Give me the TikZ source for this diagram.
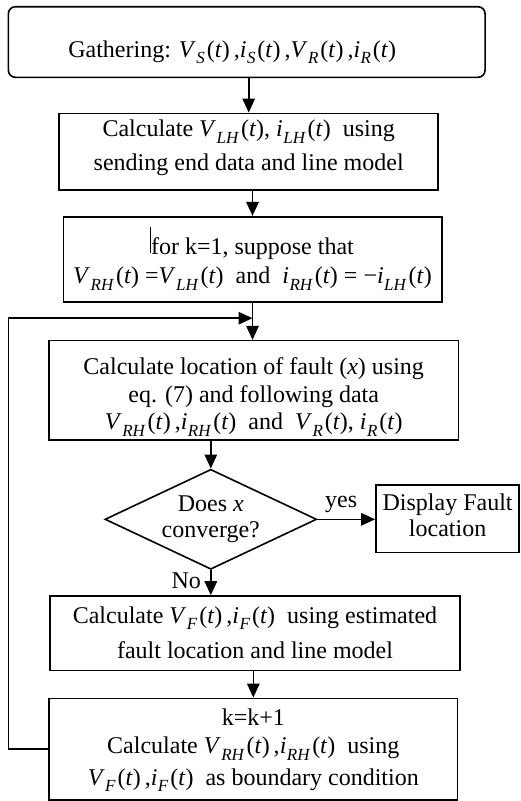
\documentclass[tikz,border=0pt]{standalone}
\usepackage{fontspec}
\setmainfont{Liberation Serif}
\usetikzlibrary{arrows.meta,shapes.geometric,calc}
\setlength\lineskiplimit{-100pt}
\setlength\lineskip{0pt}
\newcommand\qq[2]{\textit{#1}\kern0.02em\raisebox{-0.28em}{\fontsize{17}{17}\selectfont\textit{#2}}\kern0.08em(\textit{t})}
\newcommand\hs[1]{\rule{0pt}{#1pt}}
\newcommand\ds[1]{\rule[-#1pt]{0pt}{#1pt}}
\begin{document}
\begin{tikzpicture}[x=1pt,y=-1pt,
  every node/.style={align=center, inner sep=0pt},
  lead/.style={font=\fontsize{24}{#1}\selectfont},
  lead/.default=29,
  box/.style={draw, line width=1.6pt},
  arr/.style={line width=1.6pt, -{Triangle[length=14pt,width=12.5pt]}}]
\useasboundingbox (0,0) rectangle (520,801);
\node[box, lead=29, rounded corners=7pt, minimum width=476.7pt, minimum height=70.6pt] (b1) at (246.7,42)
  {\hs{40}\ds{10}Gathering: \qq{V}{S}\,,\qq{i}{S}\,,\qq{V}{R}\,,\qq{i}{R}\hspace*{29pt}};
\node[box, lead=33.3, minimum width=379pt, minimum height=76.7pt] (b2) at (248.7,151.7)
  {\hs{18.4}Calculate \qq{V}{LH}, \qq{i}{LH}\ \ using\\\ds{15}sending end data and line model};
\node[box, lead=29.3, minimum width=378.4pt, minimum height=85pt] (b3) at (252.5,259.2)
  {\hs{26.9}for k=1, suppose that\\\ds{8}\qq{V}{RH} =\qq{V}{LH}\ \ and\ \ \qq{i}{RH} = \textminus\qq{i}{LH}};
\node[box, lead=27.2, minimum width=409.3pt, minimum height=99.3pt] (b4) at (253.7,390.3)
  {\hs{31.6}Calculate location of fault (\textit{x}) using\\eq. (7) and following data\\\ds{8}\qq{V}{RH}\,,\qq{i}{RH}\ \ and\ \ \qq{V}{R}, \qq{i}{R}};
\node[box, lead=25.6, shape=diamond, aspect=2.12, minimum width=211.7pt, minimum height=100pt] (d) at (210.8,519.3)
  {Does \textit{x}\\converge?};
\node[box, lead=26.7, minimum width=143.3pt, minimum height=67.3pt] (b5) at (447.6,518.7)
  {\hs{19.3}Display Fault\\\ds{10}location};
\node[box, lead=35, minimum width=410pt, minimum height=74.7pt] (b6) at (255,633.3)
  {\hs{22.9}Calculate \qq{V}{F}\,,\qq{i}{F}\ \ using estimated\\\ds{8}fault location and line model};
\node[box, lead=28.3, minimum width=408.7pt, minimum height=101.7pt] (b7) at (253.3,749.2)
  {\hs{20.7}k=k+1\\Calculate \qq{V}{RH}\,,\qq{i}{RH}\ \ using\\[3.4pt]\ds{9}\qq{V}{F}\,,\qq{i}{F}\ \ as boundary condition};
\draw[line width=0.7pt] (150,226.7) -- (150,253.3);
\coordinate (j) at ($(b3.south)!0.42!(b3.south |- b4.north)$);
\coordinate (lft) at (8.3,0);
\draw[arr] (b1.south -| b2.north) -- (b2.north);
\draw[arr] (b3.north |- b2.south) -- (b3.north);
\draw[arr] (b3.south) -- (b3.south |- b4.north);
\draw[arr] (b4.south -| d.north) -- (d.north);
\draw[arr] (d.east) -- (b5.west |- d.east) node[lead, pos=0.41, anchor=base, yshift=12.3pt] {yes};
\draw[arr] (d.south) -- (d.south |- b6.north) node[lead, pos=0.74, anchor=base east, xshift=-9pt] {No};
\draw[arr] (b7.north |- b6.south) -- (b7.north);
\draw[arr] (b7.west) -- (b7.west -| lft) |- (j);
\end{tikzpicture}
\end{document}
